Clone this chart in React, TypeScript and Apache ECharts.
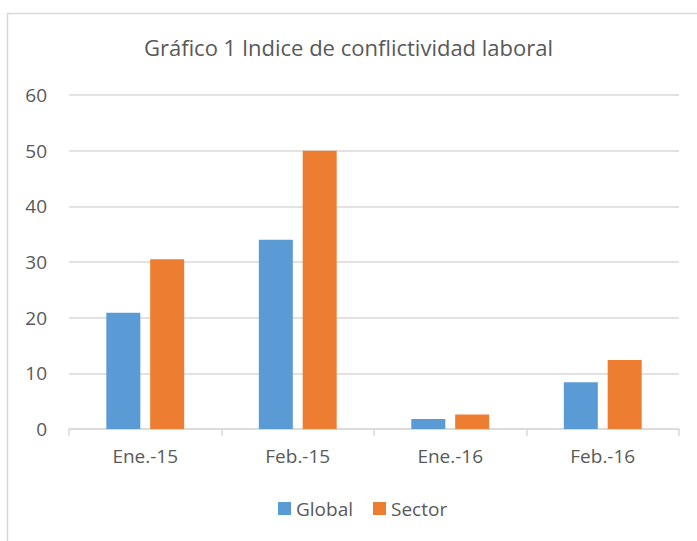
import React, { useEffect, useRef } from "react";
import * as echarts from "echarts";

const categories = ["Ene.-15", "Feb.-15", "Ene.-16", "Feb.-16"];
const globalValues = [20.9, 34.0, 1.8, 8.4];
const sectorValues = [30.5, 50.0, 2.6, 12.4];
const titleText = "Gráfico 1 Indice de conflictividad laboral";

export default function App() {
  const ref = useRef<HTMLDivElement>(null);
  useEffect(() => {
    const chart = echarts.init(ref.current!, null, { renderer: "svg" });
    const font = "'Open Sans', 'Noto Sans', sans-serif";
    chart.setOption({
      animation: false,
      backgroundColor: "#ffffff",
      textStyle: { fontFamily: font },
      title: {
        text: titleText,
        left: "center",
        top: 31,
        textStyle: { fontFamily: font, fontSize: 22, fontWeight: "normal", color: "#595959" },
      },
      graphic: [
        {
          type: "rect",
          shape: { x: 7.5, y: 13.5, width: 700, height: 540 },
          style: { fill: "none", stroke: "#d9d9d9", lineWidth: 1.5 },
          silent: true,
        },
      ],
      legend: {
        top: 494,
        left: 273,
        itemWidth: 13,
        itemHeight: 13,
        itemGap: 20,
        icon: "rect",
        textStyle: { fontFamily: font, fontSize: 19, color: "#595959" },
        data: ["Global", "Sector"],
      },
      grid: { left: 69, right: 18, top: 95, bottom: 112, containLabel: false },
      xAxis: {
        type: "category",
        data: categories,
        axisLine: { lineStyle: { color: "#d9d9d9", width: 1.5 } },
        axisTick: { show: true, length: 7, lineStyle: { color: "#d9d9d9", width: 1.5 } },
        axisLabel: { fontFamily: font, fontSize: 19, color: "#595959", margin: 17 },
      },
      yAxis: {
        type: "value",
        min: 0,
        max: 60,
        interval: 10,
        axisLine: { show: false },
        axisTick: { show: false },
        splitLine: { lineStyle: { color: "#d9d9d9", width: 1.5 } },
        axisLabel: { fontFamily: font, fontSize: 19, color: "#595959", margin: 22 },
      },
      series: [
        {
          name: "Global",
          type: "bar",
          data: globalValues,
          barWidth: 34,
          barGap: "29%",
          itemStyle: { color: "#5B9BD5" },
        },
        {
          name: "Sector",
          type: "bar",
          data: sectorValues,
          barWidth: 34,
          itemStyle: { color: "#ED7D31" },
        },
      ],
    });
    return () => chart.dispose();
  }, []);
  return <div ref={ref} style={{ width: 697, height: 541, position: "absolute", left: 0, top: 0 }} />;
}
